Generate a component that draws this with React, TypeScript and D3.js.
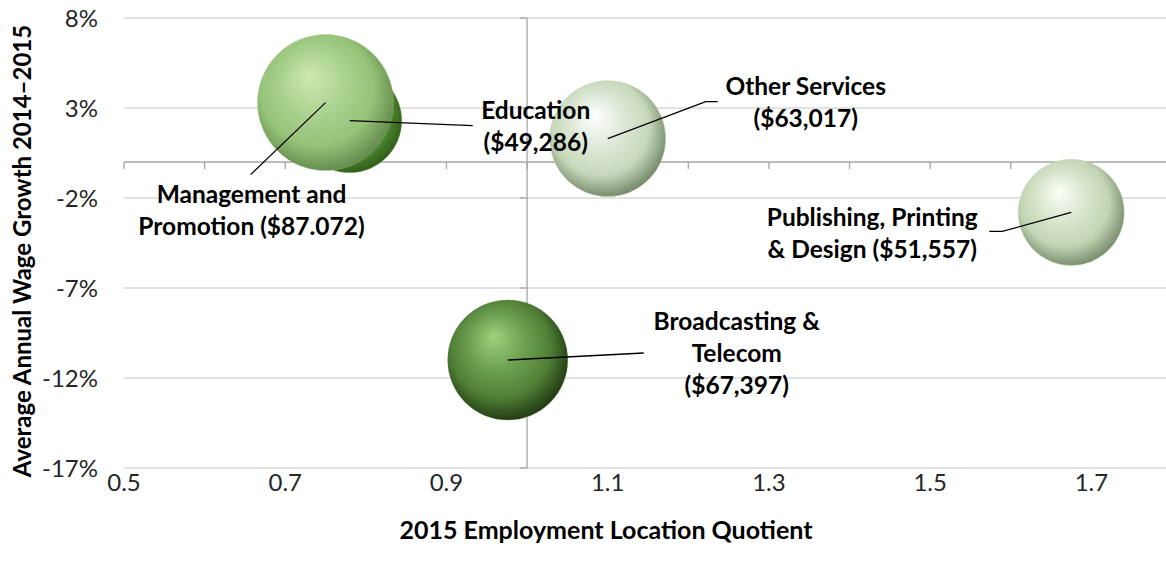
import * as d3 from "d3";

// bubbles: location quotient, wage growth %, relative size
const names = [
  "Education",
  "Management",
  "Other Services",
  "Publishing",
  "Broadcasting",
];
const quotient = [0.78, 0.75, 1.1, 1.675, 0.976];
const growth = [2.3, 3.3, 1.3, -2.8, -11.0];
const sizes = [2700, 4620, 3360, 2810, 3600];
const labels = [
  ["Education", "($49,286)"],
  ["Management and", "Promotion ($87.072)"],
  ["Other Services", "($63,017)"],
  ["Publishing, Printing", "& Design ($51,557)"],
  ["Broadcasting &", "Telecom", "($67,397)"],
];

const xTickLabels = [0.5, 0.7, 0.9, 1.1, 1.3, 1.5, 1.7];
const xMinorTicks = [0.5, 0.6, 0.7, 0.8, 0.9, 1.0, 1.1, 1.2, 1.3, 1.4, 1.5, 1.6, 1.7, 1.8];
const yTicks = [-17, -12, -7, -2, 3, 8];

const W = 1166;
const H = 573;

// sphere colours: highlight, body, edge
const shades: Record<string, string[]> = {
  Education: ["#9fd07e", "#54942f", "#30591b"],
  Management: ["#cdeab3", "#95c278", "#62874b"],
  "Other Services": ["#ffffff", "#c6d8ba", "#6f8466"],
  Publishing: ["#fbfff6", "#c2d5b3", "#74896a"],
  Broadcasting: ["#9dd27b", "#4f7e35", "#1f3712"],
};

// label placement relative to the bubble centre
const labelLayout: Record<string, { dx: number; dy: number; leader: number[][] }> = {
  Education: { dx: 186, dy: -2, leader: [[123, 5]] },
  Management: { dx: -74, dy: 100, leader: [[-75, 72]] },
  "Other Services": { dx: 198, dy: -44, leader: [[98, -37], [110, -37]] },
  Publishing: { dx: -199, dy: 14, leader: [[-69, 19], [-82, 19]] },
  Broadcasting: { dx: 229, dy: -30, leader: [[136, -7]] },
};

export default function App() {
  const x = d3.scaleLinear().domain([0.5, 1.8]).range([124, 1172]);
  const y = d3.scaleLinear().domain([-17, 8]).range([468, 18]);
  const r = d3.scaleSqrt().domain([0, d3.max(sizes) as number]).range([0, 68]);
  const lh = 32;
  const font = "Lato, 'Open Sans', sans-serif";

  return (
    <div style={{ position: "absolute", left: 0, top: 0 }}>
      <svg width={W} height={H} style={{ display: "block", background: "#fff" }}>
        <defs>
          {names.map((n, i) => (
            <radialGradient
              key={n}
              id={`g${i}`}
              cx="0.46"
              cy="0.44"
              r="0.58"
              fx="0.38"
              fy="0.3"
            >
              <stop offset="0" stopColor={shades[n][0]} />
              <stop offset="0.4" stopColor={d3.interpolateRgb(shades[n][0], shades[n][1])(0.6)} />
              <stop offset="0.72" stopColor={shades[n][1]} />
              <stop offset="1" stopColor={shades[n][2]} />
            </radialGradient>
          ))}
        </defs>

        {/* gridlines */}
        {yTicks.map((t) => (
          <line
            key={t}
            x1={x.range()[0]}
            x2={x.range()[1]}
            y1={y(t)}
            y2={y(t)}
            stroke="#d9d9d9"
            strokeWidth={1.3}
          />
        ))}

        {/* axes crossing at (1.0, 0%) */}
        <line x1={x.range()[0]} x2={x.range()[1]} y1={y(0)} y2={y(0)} stroke="#a6a6a6" strokeWidth={1.3} />
        {xMinorTicks.map((t) => (
          <line key={t} x1={x(t)} x2={x(t)} y1={y(0)} y2={y(0) + 7} stroke="#a6a6a6" strokeWidth={1.3} />
        ))}
        <line x1={x(1)} x2={x(1)} y1={y(8)} y2={y(-17)} stroke="#a6a6a6" strokeWidth={1.3} />
        {yTicks.map((t) => (
          <line key={t} x1={x(1) - 7} x2={x(1)} y1={y(t)} y2={y(t)} stroke="#a6a6a6" strokeWidth={1.3} />
        ))}

        {/* tick labels */}
        {yTicks.map((t) => (
          <text
            key={t}
            x={98}
            y={y(t)}
            dy="0.36em"
            textAnchor="end"
            fontFamily={font}
            fontSize={24}
            fill="#262626"
          >
            {`${t}%`}
          </text>
        ))}
        {xTickLabels.map((t) => (
          <text
            key={t}
            x={x(t)}
            y={491}
            textAnchor="middle"
            fontFamily={font}
            fontSize={24}
            fill="#262626"
          >
            {d3.format(".1f")(t)}
          </text>
        ))}

        {/* bubbles */}
        {names.map((n, i) => (
          <circle
            key={n}
            cx={x(quotient[i])}
            cy={y(growth[i])}
            r={r(sizes[i])}
            fill={`url(#g${i})`}
            stroke={shades[n][1]}
            strokeOpacity={0.5}
            strokeWidth={0.8}
          />
        ))}

        {/* leader lines and labels */}
        {names.map((n, i) => {
          const cx = x(quotient[i]);
          const cy = y(growth[i]);
          const L = labelLayout[n];
          const pts = [[cx, cy], ...L.leader.map(([a, b]) => [cx + a, cy + b])] as [number, number][];
          return (
            <g key={n}>
              <path d={d3.line()(pts) as string} fill="none" stroke="#000" strokeWidth={1.3} />
              <text
                x={cx + L.dx}
                y={cy + L.dy}
                textAnchor="middle"
                fontFamily={font}
                fontWeight="bold"
                fontSize={24.5}
                fill="#000"
              >
                {labels[i].map((s, k) => (
                  <tspan key={k} x={cx + L.dx} dy={k === 0 ? 0 : lh}>
                    {s}
                  </tspan>
                ))}
              </text>
            </g>
          );
        })}

        {/* axis titles */}
        <text
          x={606}
          y={539}
          textAnchor="middle"
          fontFamily={font}
          fontWeight="bold"
          fontSize={25}
        >
          2015 Employment Location Quotient
        </text>
        <text
          transform={`translate(31,251) rotate(-90)`}
          textAnchor="middle"
          fontFamily={font}
          fontWeight="bold"
          fontSize={24}
        >
          Average Annual Wage Growth 2014–2015
        </text>
      </svg>
    </div>
  );
}
